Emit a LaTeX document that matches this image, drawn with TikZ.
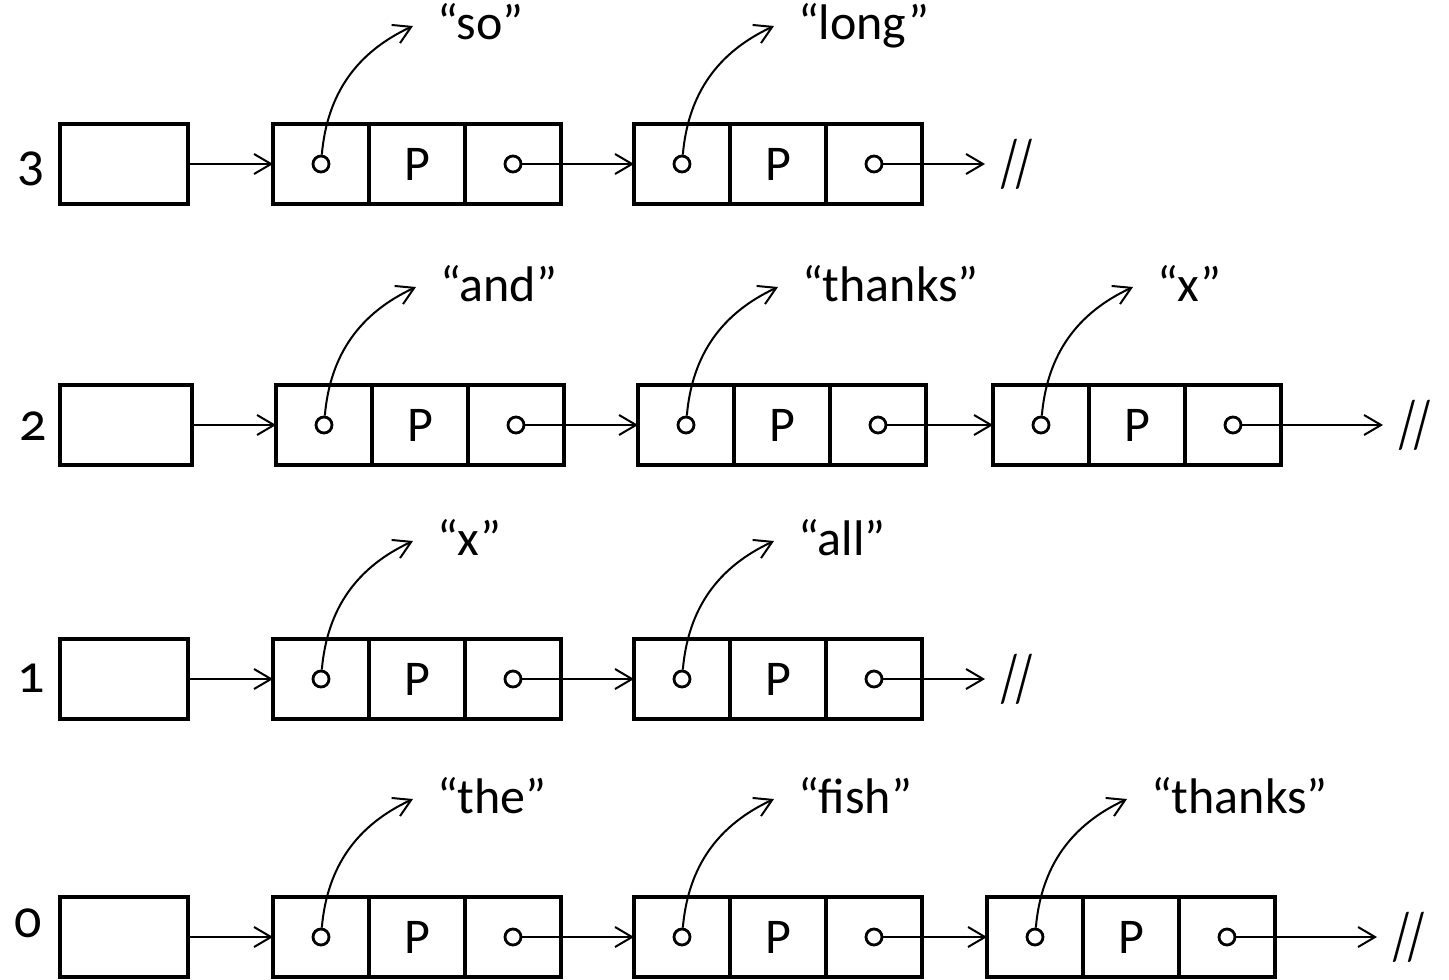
\documentclass[tikz,border=0pt]{standalone}
\usepackage{fontspec}
\setmainfont{Carlito}[Numbers=OldStyle]
\usetikzlibrary{arrows.meta,positioning}

\tikzset{
  zelle/.style={draw, line width=1.6pt, minimum width=48pt, minimum height=40pt,
    inner sep=0pt, outer sep=0pt, font=\fontsize{25}{30}\selectfont},
  kopf/.style={zelle, minimum width=64pt},
  punkt/.style={circle, draw, line width=1.4pt, fill=white, minimum size=8pt, inner sep=0pt},
  zeiger/.style={line width=1pt, -{Straight Barb[length=8.5pt,width=10pt]}},
  wort/.style={anchor=west, inner xsep=12pt, inner ysep=0pt, outer sep=0pt,
    text height=18pt, text depth=4pt, font=\fontsize{25}{30}\selectfont},
  ende/.style={anchor=west, inner xsep=8pt, outer sep=0pt, font=\fontsize{34}{40}\selectfont},
  nummer/.style={anchor=base, font=\fontsize{27}{32}\selectfont}
}

% ein Listenelement: Name, linke Kante, Zeile, Wort
\newcommand{\elem}[4]{%
  \node[zelle] (#1a) at (#2+48,#3) {};
  \node[zelle, right=0pt of #1a] (#1b) {P};
  \node[zelle, right=0pt of #1b] (#1c) {};
  \node[punkt] (#1p) at (#1a.center) {};
  \node[punkt] (#1q) at (#1c.center) {};
  \node[wort] (#1w) at (#2+48+92,#3+138) {#4};
  \draw[zeiger] (#1p) to[out=85,in=205] (#1w.west);
}
\newcommand{\nil}{\scalebox{0.6}[1]{//}}

\begin{document}
\begin{tikzpicture}[x=0.5pt,y=0.5pt]
    \useasboundingbox (0,0) rectangle (1449,-979);

    % Ebene 3
    \node[nummer] at (31,-180) {3};
    \node[kopf] (h3) at (124,-164) {};
    \elem{n31}{273}{-164}{“so”}
    \elem{n32}{634}{-164}{“long”}
    \node[ende] (e3) at (985,-164) {\nil};
    \draw[zeiger] (h3) -- (n31a);
    \draw[zeiger] (n31q) -- (n32a);
    \draw[zeiger] (n32q) -- (e3.west);

    % Ebene 2
    \node[nummer] at (33,-440) {2};
    \node[kopf, minimum width=66pt] (h2) at (126,-425) {};
    \elem{n21}{276}{-425}{“and”}
    \elem{n22}{638}{-425}{“thanks”}
    \elem{n23}{993}{-425}{“x”}
    \node[ende] (e2) at (1383,-425) {\nil};
    \draw[zeiger] (h2) -- (n21a);
    \draw[zeiger] (n21q) -- (n22a);
    \draw[zeiger] (n22q) -- (n23a);
    \draw[zeiger] (n23q) -- (e2.west);

    % Ebene 1
    \node[nummer] at (31,-692) {1};
    \node[kopf] (h1) at (124,-679) {};
    \elem{n11}{273}{-679}{“x”}
    \elem{n12}{634}{-679}{“all”}
    \node[ende] (e1) at (985,-679) {\nil};
    \draw[zeiger] (h1) -- (n11a);
    \draw[zeiger] (n11q) -- (n12a);
    \draw[zeiger] (n12q) -- (e1.west);

    % Ebene 0
    \node[nummer] at (28,-937) {0};
    \node[kopf] (h0) at (124,-937) {};
    \elem{n01}{273}{-937}{“the”}
    \elem{n02}{634}{-937}{“fish”}
    \elem{n03}{987}{-937}{“thanks”}
    \node[ende] (e0) at (1377,-937) {\nil};
    \draw[zeiger] (h0) -- (n01a);
    \draw[zeiger] (n01q) -- (n02a);
    \draw[zeiger] (n02q) -- (n03a);
    \draw[zeiger] (n03q) -- (e0.west);
  \end{tikzpicture}
\end{document}
